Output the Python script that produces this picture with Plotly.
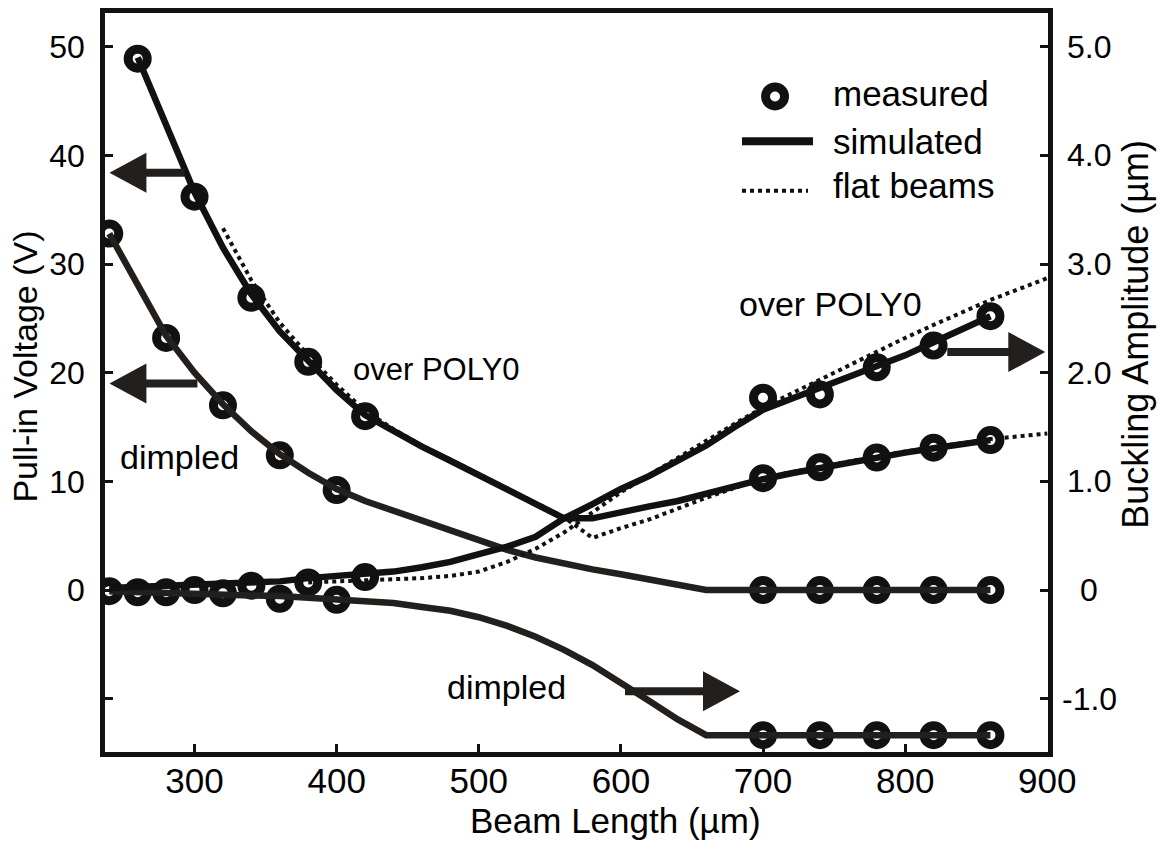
import plotly.graph_objects as go

# ---------------------------------------------------------------- data
# beam lengths (µm) of the measured structures
length_poly0 = [260, 300, 340, 380, 420, 700, 740, 780, 820, 860]
length_dimpled = [240, 280, 320, 360, 400, 700, 740, 780, 820, 860]

# measured pull-in voltage (V)
pullin_poly0_meas = [48.9, 36.2, 26.9, 21.0, 16.0, 10.3, 11.3, 12.2, 13.1, 13.8]
pullin_dimpled_meas = [32.8, 23.2, 17.0, 12.4, 9.2, 0.0, 0.0, 0.0, 0.0, 0.0]

# measured buckling amplitude (µm)
buckling_poly0_meas = [-0.02, 0.0, 0.04, 0.07, 0.12, 1.77, 1.80, 2.05, 2.25, 2.52]
buckling_dimpled_meas = [-0.01, -0.02, -0.03, -0.08, -0.09,
                         -1.335, -1.335, -1.335, -1.335, -1.335]

# simulated curves (20 µm grid)
sim_length = [240, 260, 280, 300, 320, 340, 360, 380, 400, 420, 440, 460,
              480, 500, 520, 540, 560, 580, 600, 620, 640, 660, 680, 700,
              720, 740, 760, 780, 800, 820, 840, 860]
sim_length_poly0 = sim_length[1:]
sim_pullin_poly0 = [49.0, 42.8, 36.6, 31.5, 27.2, 23.8, 21.0, 18.4, 16.1, 14.6,
                    13.2, 11.9, 10.6, 9.3, 7.9, 6.6, 6.6, 7.2, 7.7, 8.2, 8.9,
                    9.6, 10.2, 10.75, 11.25, 11.75, 12.2, 12.65, 13.05, 13.45, 13.8]
sim_pullin_dimpled = [32.8, 28.0, 23.4, 20.0, 17.1, 14.6, 12.5, 10.8, 9.3, 8.2,
                      7.3, 6.3, 5.4, 4.6, 3.7, 3.0, 2.4, 1.9, 1.45, 1.0, 0.55,
                      0.0, 0.0, 0.0, 0.0, 0.0, 0.0, 0.0, 0.0, 0.0, 0.0, 0.0]
sim_buckling_poly0 = [0.02, 0.03, 0.03, 0.04, 0.05, 0.06, 0.08, 0.11, 0.13, 0.15,
                      0.17, 0.21, 0.26, 0.33, 0.40, 0.49, 0.66, 0.79, 0.93, 1.05,
                      1.19, 1.33, 1.50, 1.66, 1.76, 1.86, 1.96, 2.06, 2.16, 2.28,
                      2.40, 2.52]
sim_buckling_dimpled = [-0.01, -0.02, -0.03, -0.035, -0.04, -0.05, -0.055, -0.07,
                        -0.085, -0.10, -0.12, -0.155, -0.19, -0.25, -0.33, -0.43,
                        -0.55, -0.69, -0.85, -1.02, -1.19, -1.335, -1.335, -1.335,
                        -1.335, -1.335, -1.335, -1.335, -1.335, -1.335, -1.335, -1.335]

# flat-beam model (over POLY0)
flat_length_pullin = [320, 340, 360, 380, 400, 420, 440, 460, 480, 500, 520, 540,
                      560, 580, 600, 620, 640, 660, 680, 700, 720, 740, 760, 780,
                      800, 820, 840, 860, 880, 900]
flat_pullin = [33.3, 28.5, 24.6, 21.6, 18.9, 16.5, 14.8, 13.3, 12.0, 10.7, 9.4, 8.0,
               6.7, 4.8, 5.7, 6.5, 7.5, 8.5, 9.4, 10.3, 10.85, 11.35, 11.85, 12.3,
               12.75, 13.15, 13.55, 13.9, 14.15, 14.4]
flat_length_buckling = [380, 400, 420, 440, 460, 480, 500, 520, 540, 560, 580, 600,
                        620, 640, 660, 680, 700, 720, 740, 760, 780, 800, 820, 840,
                        860, 880, 900]
flat_buckling = [0.07, 0.08, 0.09, 0.10, 0.11, 0.13, 0.17, 0.26, 0.38, 0.53, 0.71,
                 0.90, 1.06, 1.22, 1.38, 1.53, 1.68, 1.81, 1.94, 2.07, 2.20, 2.32,
                 2.44, 2.56, 2.67, 2.77, 2.87]

# axes
x_ticks = [300, 400, 500, 600, 700, 800, 900]
x_ticktext = ["300", "400", "500", "600", "700", "800", "900"]
v_ticks = [-10, 0, 10, 20, 30, 40, 50]
v_ticktext = ["", "0", "10", "20", "30", "40", "50"]
a_ticks = [-1.0, 0.0, 1.0, 2.0, 3.0, 4.0, 5.0]
a_ticktext = ["-1.0", "0", "1.0", "2.0", "3.0", "4.0", "5.0"]

# ---------------------------------------------------------------- style
INK = "#111111"
BROWN = "#231f1c"
FONT = "Liberation Sans, Arial, Helvetica, sans-serif"

# plot-area edges in pixels, used to place legend and titles
PL, PR, PT, PB = 105, 1048, 8, 752


def fx(px):
    return (px - PL) / (PR - PL)


def fy(py):
    return (PB - py) / (PB - PT)


fig = go.Figure()


def add_measured(x, y, axis):
    fig.add_trace(go.Scatter(
        x=x, y=y, yaxis=axis, mode="markers", hoverinfo="skip",
        marker=dict(symbol="circle", size=19, color="white",
                    line=dict(color=INK, width=9))))


def add_curve(x, y, axis, color, dash="solid", width=6.5):
    fig.add_trace(go.Scatter(
        x=x, y=y, yaxis=axis, mode="lines", hoverinfo="skip",
        line=dict(color=color, width=width, dash=dash)))


add_measured(length_poly0, pullin_poly0_meas, "y")
add_measured(length_dimpled, pullin_dimpled_meas, "y")
add_measured(length_poly0, buckling_poly0_meas, "y2")
add_measured(length_dimpled, buckling_dimpled_meas, "y2")

add_curve(flat_length_pullin, flat_pullin, "y", INK, dash="4px,4px", width=4)
add_curve(flat_length_buckling, flat_buckling, "y2", INK, dash="4px,4px", width=4)
add_curve(sim_length, sim_pullin_dimpled, "y", BROWN)
add_curve(sim_length, sim_buckling_dimpled, "y2", BROWN)
add_curve(sim_length_poly0, sim_pullin_poly0, "y", INK)
add_curve(sim_length, sim_buckling_poly0, "y2", INK)

shapes = []
annotations = []


def arrow(x, y, yref, length, direction):
    # filled arrow whose tip sits at (x, y); sizes in pixels
    s = 1 if direction == "left" else -1
    head, half, shaft = 37, 20, 4
    path = (f"M0,0 L{s*head},{half} L{s*head},{shaft} L{s*length},{shaft} "
            f"L{s*length},{-shaft} L{s*head},{-shaft} L{s*head},{-half} Z")
    shapes.append(dict(type="path", xref="x", yref=yref,
                       xsizemode="pixel", ysizemode="pixel",
                       xanchor=x, yanchor=y, path=path,
                       fillcolor=BROWN, line=dict(width=0), layer="above"))


arrow(240.1, 38.4, "y", 75, "left")
arrow(240.1, 19.0, "y", 88, "left")
arrow(898.6, 2.19, "y2", 98, "right")
arrow(683.8, -0.93, "y2", 115, "right")


def label(text, x, y, xref, yref, size=34, xanchor="center", angle=0):
    annotations.append(dict(text=text, x=x, y=y, xref=xref, yref=yref,
                            showarrow=False, xanchor=xanchor, yanchor="middle",
                            textangle=angle,
                            font=dict(family=FONT, size=size, color="#000000")))


label("over POLY0", 470.4, 20.3, "x", "y", size=31)
label("over POLY0", 747.2, 2.63, "x", "y2")
label("dimpled", 289.4, 12.2, "x", "y")
label("dimpled", 519.7, -0.89, "x", "y2")

# right-hand tick labels, centred under each other
for val, txt in zip(a_ticks, a_ticktext):
    label(txt, fx(1089), val, "paper", "y2", size=32)

# axis titles
label("Beam Length (µm)", fx(615), fy(821), "paper", "paper", size=35)
label("Pull-in Voltage (V)", fx(25), fy(364), "paper", "paper", size=34, angle=-90)
label("Buckling Amplitude (µm)", fx(1136), fy(332), "paper", "paper", size=36, angle=-90)

# legend
shapes.append(dict(type="circle", xref="paper", yref="paper",
                   xsizemode="pixel", ysizemode="pixel",
                   xanchor=fx(775), yanchor=fy(92), x0=-9.5, x1=9.5, y0=-9.5, y1=9.5,
                   fillcolor="white", line=dict(color=INK, width=9)))
shapes.append(dict(type="line", xref="paper", yref="paper",
                   x0=fx(742), x1=fx(813), y0=fy(137), y1=fy(137),
                   line=dict(color=INK, width=8)))
shapes.append(dict(type="line", xref="paper", yref="paper",
                   x0=fx(742), x1=fx(808), y0=fy(187), y1=fy(187),
                   line=dict(color=INK, width=4, dash="4px,4px")))
label("measured", fx(831), fy(89), "paper", "paper", size=35, xanchor="left")
label("simulated", fx(831), fy(137), "paper", "paper", size=35, xanchor="left")
label("flat beams", fx(831), fy(182), "paper", "paper", size=35, xanchor="left")

axis_common = dict(showline=True, linewidth=4.5, linecolor=INK, ticks="inside",
                   ticklen=8, tickwidth=3, tickcolor=INK, showgrid=False,
                   zeroline=False)

fig.update_layout(
    width=1160, height=844,
    margin=dict(l=PL, r=1160 - PR, t=PT, b=844 - PB, pad=0),
    paper_bgcolor="white", plot_bgcolor="white",
    showlegend=False,
    font=dict(family=FONT, color="#000000"),
    xaxis=dict(range=[237, 900.5], tickvals=x_ticks, ticktext=x_ticktext,
               mirror=True, tickfont=dict(size=35), ticklabelstandoff=-6,
               **axis_common),
    yaxis=dict(range=[-14.9, 53.1], tickvals=v_ticks, ticktext=v_ticktext,
               tickfont=dict(size=32), ticklabelstandoff=9, **axis_common),
    yaxis2=dict(range=[-1.49, 5.31], tickvals=a_ticks, overlaying="y",
                side="right", showticklabels=False, **axis_common),
    shapes=shapes,
    annotations=annotations,
)

fig.write_html("out.html", config={"displayModeBar": False})
